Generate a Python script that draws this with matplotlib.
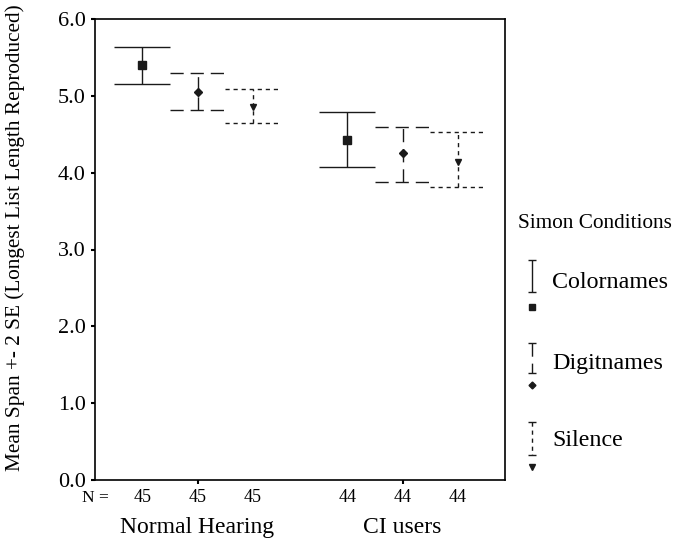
import matplotlib
matplotlib.use("Agg")
import matplotlib.pyplot as plt
import numpy as np

plt.rcParams['font.family'] = ['Liberation Serif', 'DejaVu Serif']

groups = ["Normal Hearing", "CI users"]
conditions = ["Colornames", "Digitnames", "Silence"]
n_counts = [[45, 45, 45], [44, 44, 44]]
means = [[5.40, 5.05, 4.86], [4.43, 4.25, 4.14]]
upper = [[5.64, 5.30, 5.09], [4.79, 4.60, 4.53]]
lower = [[5.16, 4.82, 4.65], [4.07, 3.88, 3.81]]

offsets = [-0.27, 0.0, 0.27]
half_cap = 0.135
dashes = [None, (0, (9.5, 5)), (0, (3, 2.8))]
markers = ['s', 'D', 'v']
msizes = [5.5, 4.5, 5]
col = '#1a1a1a'

fig = plt.figure(figsize=(6.73, 5.41), dpi=100)
ax = fig.add_axes([95 / 673, 61 / 541, 410 / 673, 461 / 541])

for g in range(len(groups)):
    for c in range(len(conditions)):
        x = g + 1 + offsets[c]
        ls = '-' if dashes[c] is None else dashes[c]
        ax.vlines(x, lower[g][c], upper[g][c], colors=col, linestyles=ls, lw=1.0)
        ax.hlines([lower[g][c], upper[g][c]], x - half_cap, x + half_cap,
                  colors=col, linestyles=ls, lw=1.0)
        ax.plot(x, means[g][c], marker=markers[c], ms=msizes[c], color=col, zorder=3)

ax.set_xlim(0.5, 2.5)
ax.set_ylim(0, 6)
ax.set_yticks(np.arange(0, 6.1, 1.0))
ax.set_yticklabels(["%.1f" % v for v in np.arange(0, 6.1, 1.0)], fontsize=16)
ax.set_xticks([1, 2])
ax.set_xticklabels([])
ax.tick_params(direction='out', length=3, width=1.5, pad=3.5)
for s in ax.spines.values():
    s.set_linewidth(1.2)

# N counts and group names below the axis
ax.text(0.5, -0.04, "N =", transform=ax.get_xaxis_transform(),
        ha='center', va='center', fontsize=12.5)
for g in range(len(groups)):
    for c in range(len(conditions)):
        ax.text(g + 1 + offsets[c], -0.037, str(n_counts[g][c]),
                transform=ax.get_xaxis_transform(), ha='center', va='center', fontsize=13)
    ax.text(g + 1, -0.102, groups[g], transform=ax.get_xaxis_transform(),
            ha='center', va='center', fontsize=17)

fig.text(15 / 673, 1 - 238 / 541, "Mean Span +- 2 SE (Longest List Length Reproduced)",
         rotation=90, ha='center', va='center', fontsize=15.3)

# legend drawn by hand in pixel space
lg = fig.add_axes([0, 0, 1, 1])
lg.set_xlim(0, 673)
lg.set_ylim(541, 0)
lg.axis('off')
lg.text(518, 223, "Simon Conditions", ha='left', va='center', fontsize=15.3)
leg_tops = [260, 343, 422]
leg_bots = [292, 373, 455]
leg_mark = [307, 385, 467]
leg_text = [282, 363, 440]
for c in range(len(conditions)):
    ls = '-' if dashes[c] is None else dashes[c]
    lg.vlines(532, leg_tops[c], leg_bots[c], colors=col, linestyles=ls, lw=1.0)
    lg.hlines([leg_tops[c], leg_bots[c]], 528, 536, colors=col, lw=1.0)
    lg.plot(532, leg_mark[c], marker=markers[c], ms=msizes[c] - 1, color=col)
    lg.text(552, leg_text[c], conditions[c], ha='left', va='center', fontsize=17.3)

fig.savefig("out.png", dpi=100)
